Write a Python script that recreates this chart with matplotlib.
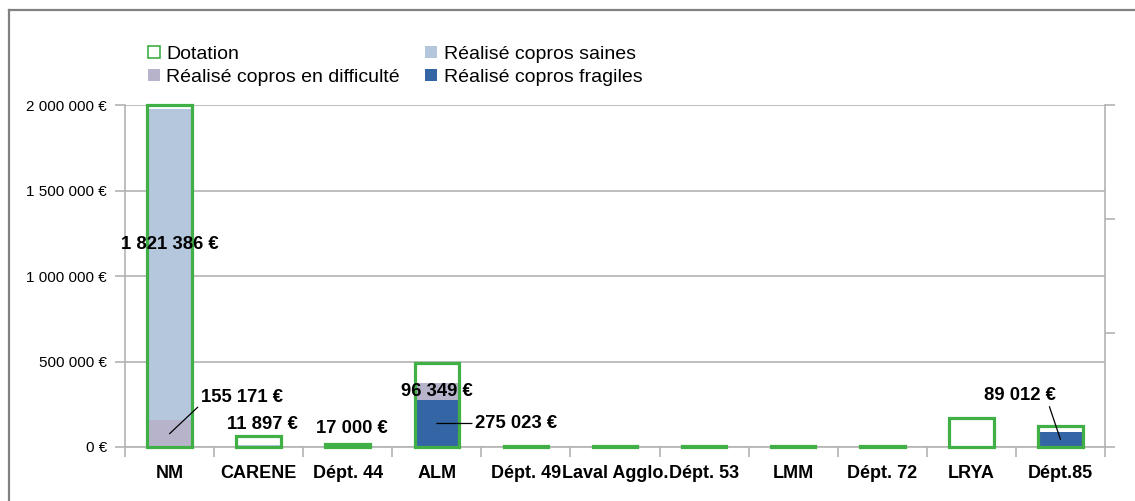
import matplotlib
matplotlib.use("Agg")
import matplotlib.pyplot as plt
from matplotlib.patches import Rectangle
from matplotlib.lines import Line2D
import numpy as np

plt.rcParams['font.family'] = ['Liberation Sans', 'DejaVu Sans']

categories = ["NM", "CARENE", "Dépt. 44", "ALM", "Dépt. 49", "Laval Agglo.",
              "Dépt. 53", "LMM", "Dépt. 72", "LRYA", "Dépt.85"]
dotation = [2000000, 65000, 17000, 490000, 3000, 3000, 3000, 3000, 3000, 170000, 120000]
realise_fragiles = [0, 0, 0, 275023, 0, 0, 0, 0, 0, 0, 89012]
realise_difficulte = [155171, 0, 0, 96349, 0, 0, 0, 0, 0, 0, 0]
realise_saines = [1821386, 11897, 17000, 0, 0, 0, 0, 0, 0, 0, 0]
yticks = [0, 500000, 1000000, 1500000, 2000000]

C_GREEN = "#3faf46"
C_SAINES = "#b4c7dc"
C_DIFF = "#b7b3ca"
C_FRAG = "#3465a4"
C_GRID = "#b3b3b3"

W, H = 1135, 501
fig = plt.figure(figsize=(W / 100, H / 100), dpi=100)
ax = fig.add_axes([125 / W, 1 - 447 / H, (1105 - 125) / W, (447 - 105) / H])

x = np.arange(len(categories))
bw = 0.5
frag = np.array(realise_fragiles)
diff = np.array(realise_difficulte)
sain = np.array(realise_saines)
ax.bar(x, frag, bw, color=C_FRAG, zorder=2)
ax.bar(x, diff, bw, bottom=frag, color=C_DIFF, zorder=2)
ax.bar(x, sain, bw, bottom=frag + diff, color=C_SAINES, zorder=2)
dbars = ax.bar(x, dotation, bw, facecolor="none", edgecolor=C_GREEN, linewidth=2.3, zorder=3)
for b in dbars:
    b.set_clip_on(False)

ax.set_xlim(-0.5, len(categories) - 0.5)
ax.set_ylim(0, 2000000)
ax.set_yticks(yticks)
ax.set_yticklabels([f"{v:,}".replace(",", " ") + " €" for v in yticks], fontsize=11)
ax.yaxis.grid(True, color=C_GRID, linewidth=1.2, zorder=0)
ax.set_axisbelow(True)

ax.set_xticks(x)
ax.set_xticklabels(categories, fontsize=13, fontweight="bold")
ax.set_xticks(np.arange(len(categories) + 1) - 0.5, minor=True)
ax.tick_params(axis="x", which="major", length=0, pad=13)
ax.tick_params(axis="x", which="minor", length=7, width=1.2, color=C_GRID, direction="out")
ax.tick_params(axis="y", length=7, width=1.2, color=C_GRID, pad=6, direction="out")
for s in ["left", "bottom", "right"]:
    ax.spines[s].set_color(C_GRID)
    ax.spines[s].set_linewidth(1.2)
ax.spines["top"].set_visible(False)

ax2 = ax.twinx()
ax2.set_ylim(0, 3)
ax2.set_yticks([0, 1, 2, 3])
ax2.set_yticklabels([])
ax2.tick_params(axis="y", length=7, width=1.2, color=C_GRID, direction="out")
for s in ax2.spines.values():
    s.set_visible(False)

# data labels
lab_kw = dict(fontsize=13.3, fontweight="bold", ha="center", va="center",
              textcoords="offset pixels", zorder=5)
def fmt(v):
    return f"{v:,}".replace(",", " ") + " €"

arrow = lambda rp: dict(arrowstyle="-", color="black", lw=0.9, shrinkA=0, shrinkB=0, relpos=rp)

# NM saines
i = 0
ax.annotate(fmt(sain[i]), (i, frag[i] + diff[i] + sain[i] / 2), xytext=(0, 20), **lab_kw)
# NM difficulté
ax.annotate(fmt(diff[i]), (i, frag[i] + diff[i] / 2), xytext=(72, 36),
            arrowprops=arrow((0, 0.1)), **lab_kw)
# CARENE saines
i = 1
ax.annotate(fmt(sain[i]), (i, sain[i] / 2), xytext=(4, 21), **lab_kw)
# Dépt. 44 saines
i = 2
ax.annotate(fmt(sain[i]), (i, sain[i] / 2), xytext=(4, 17), **lab_kw)
# ALM difficulté
i = 3
ax.annotate(fmt(diff[i]), (i, frag[i] + diff[i] / 2), xytext=(0, 0), **lab_kw)
# ALM fragiles
ax.annotate(fmt(frag[i]), (i, frag[i] / 2), xytext=(79, 0),
            arrowprops=arrow((0, 0.5)), **lab_kw)
# Dépt.85 fragiles
i = 10
ax.annotate(fmt(frag[i]), (i, frag[i] / 2), xytext=(-41, 44),
            arrowprops=arrow((0.9, 0.05)), **lab_kw)

# legend
handles = [
    Rectangle((0, 0), 1, 1, facecolor="white", edgecolor=C_GREEN, linewidth=1.2),
    Rectangle((0, 0), 1, 1, facecolor=C_DIFF, edgecolor="none"),
    Rectangle((0, 0), 1, 1, facecolor=C_SAINES, edgecolor="none"),
    Rectangle((0, 0), 1, 1, facecolor=C_FRAG, edgecolor="none"),
]
labels = ["Dotation", "Réalisé copros en difficulté", "Réalisé copros saines", "Réalisé copros fragiles"]
fig.legend(handles, labels, ncol=2, loc="upper left", bbox_to_anchor=(148 / W, 1 - 46 / H),
           frameon=False, fontsize=14, handlelength=0.6, handleheight=0.6,
           handletextpad=0.35, columnspacing=1.3, labelspacing=0.3, borderpad=0,
           borderaxespad=0)

# outer frame
fig.add_artist(Line2D([9 / W, 1.01], [1 - 10 / H, 1 - 10 / H], color="#808080", lw=1.6,
                      transform=fig.transFigure))
fig.add_artist(Line2D([9 / W, 9 / W], [1 - 10 / H, -0.01], color="#808080", lw=1.6,
                      transform=fig.transFigure))

fig.savefig("out.png", dpi=100)
